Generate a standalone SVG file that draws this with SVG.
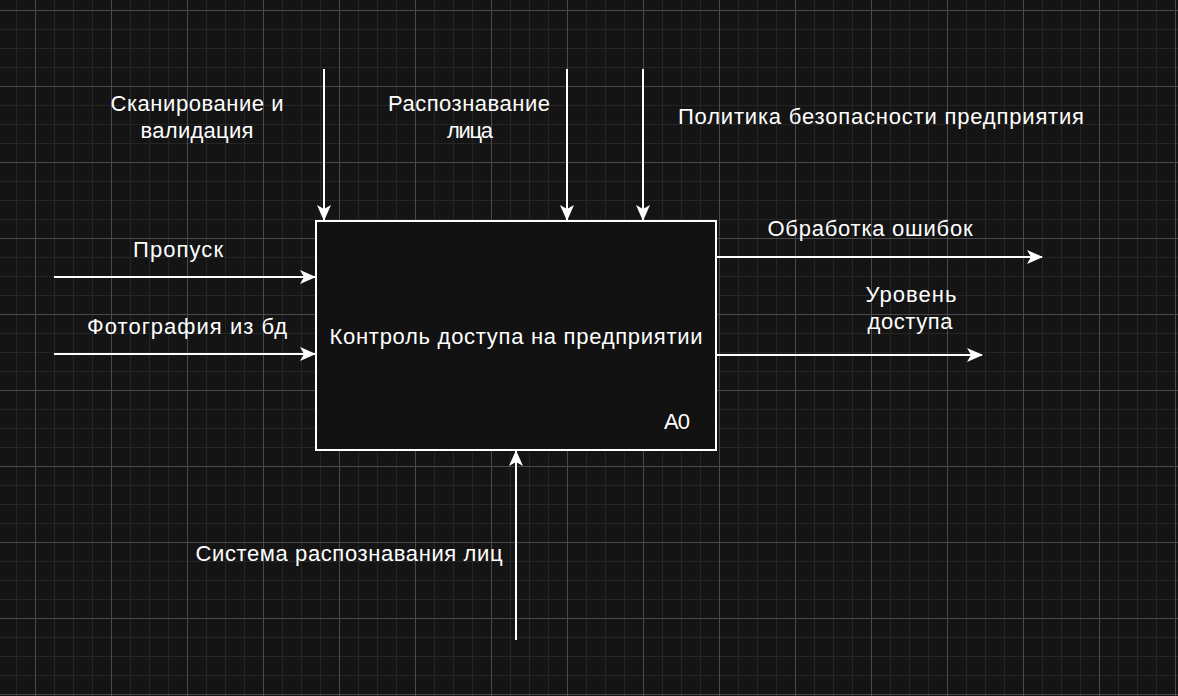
<svg xmlns="http://www.w3.org/2000/svg" width="1178" height="696" viewBox="0 0 1178 696">
<defs>
<pattern id="minor" width="19" height="19" patternUnits="userSpaceOnUse" x="35" y="10">
<path d="M0 0.5H19M0.5 0V19" stroke="#252525" stroke-width="1" fill="none"/>
</pattern>
<pattern id="major" width="76" height="76" patternUnits="userSpaceOnUse" x="35" y="10">
<path d="M0 0.5H76M0.5 0V76" stroke="#4a4a4a" stroke-width="1" fill="none"/>
</pattern>
<marker id="arr" viewBox="0 0 16 16" refX="15" refY="8" markerWidth="16" markerHeight="16" markerUnits="userSpaceOnUse" orient="auto">
<path d="M0 1L16 8L0 15L4 8Z" fill="#ffffff"/>
</marker>
</defs>
<style>
.t{font-family:"Liberation Sans",Arial,sans-serif;font-size:22px;fill:#ffffff}
.c{text-anchor:middle}
.l{stroke:#ffffff;stroke-width:2;fill:none;marker-end:url(#arr)}
</style>
<rect width="1178" height="696" fill="#141414"/>
<rect width="1178" height="696" fill="url(#minor)"/>
<rect width="1178" height="696" fill="url(#major)"/>
<g id="connectors">
<path class="l" d="M324 69V220"/>
<path class="l" d="M567 69V220"/>
<path class="l" d="M643 69V220"/>
<path class="l" d="M54 277H315"/>
<path class="l" d="M54 354H315"/>
<path class="l" d="M717 257H1042"/>
<path class="l" d="M717 355H982"/>
<path class="l" d="M516 640V451"/>
</g>
<g id="node-A0">
<rect x="316" y="221" width="400" height="229" fill="#121212" stroke="#ffffff" stroke-width="2"/>
<text class="t c" x="516" y="344" textLength="373" lengthAdjust="spacing">Контроль доступа на предприятии</text>
<text class="t" x="664" y="429" textLength="26" lengthAdjust="spacing">A0</text>
</g>
<g id="labels">
<text class="t c" x="197" y="111" textLength="173" lengthAdjust="spacing">Сканирование и</text>
<text class="t c" x="197" y="138" textLength="113" lengthAdjust="spacing">валидация</text>
<text class="t c" x="469" y="111" textLength="162" lengthAdjust="spacing">Распознавание</text>
<text class="t c" x="470" y="138" textLength="46" lengthAdjust="spacing">лица</text>
<text class="t" x="678" y="124" textLength="406" lengthAdjust="spacing">Политика безопасности предприятия</text>
<text class="t c" x="178" y="257" textLength="90" lengthAdjust="spacing">Пропуск</text>
<text class="t c" x="187" y="334" textLength="200" lengthAdjust="spacing">Фотография из бд</text>
<text class="t c" x="870" y="236" textLength="205" lengthAdjust="spacing">Обработка ошибок</text>
<text class="t c" x="911" y="302" textLength="91" lengthAdjust="spacing">Уровень</text>
<text class="t c" x="910" y="329" textLength="85" lengthAdjust="spacing">доступа</text>
<text class="t c" x="349" y="561" textLength="307" lengthAdjust="spacing">Система распознавания лиц</text>
</g>
</svg>
